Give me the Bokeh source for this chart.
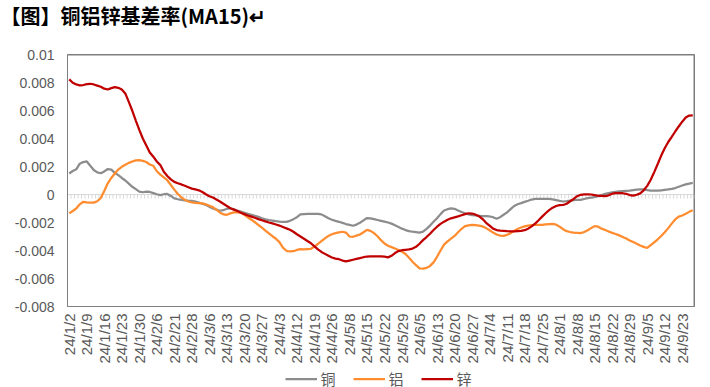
from math import pi
from bokeh.plotting import figure
from bokeh.layouts import column
from bokeh.models import (Range1d, FixedTicker, Legend, LegendItem, Title, Span,
                          ColumnDataSource)
from bokeh.embed import file_html
from bokeh.resources import INLINE

# x-axis labels: one every 5 trading days
tick_labels = ["24/1/2", "24/1/9", "24/1/16", "24/1/23", "24/1/30", "24/2/6", "24/2/21",
               "24/2/28", "24/3/6", "24/3/13", "24/3/20", "24/3/27", "24/4/3", "24/4/12",
               "24/4/19", "24/4/26", "24/5/8", "24/5/15", "24/5/22", "24/5/29", "24/6/5",
               "24/6/13", "24/6/20", "24/6/27", "24/7/4", "24/7/11", "24/7/18", "24/7/25",
               "24/8/1", "24/8/8", "24/8/15", "24/8/22", "24/8/29", "24/9/5", "24/9/12",
               "24/9/23"]
label_step = 5

# basis rate (MA15), in per-mille (x 0.001)
copper = [1.50, 1.68, 1.80, 2.20, 2.32, 2.36, 2.05, 1.75, 1.58, 1.52,
          1.65, 1.82, 1.78, 1.55, 1.38, 1.18, 1.00, 0.78, 0.55, 0.38,
          0.20, 0.16, 0.20, 0.18, 0.10, 0.02, -0.04, 0.02, 0.04, -0.10,
          -0.28, -0.34, -0.38, -0.42, -0.44, -0.45, -0.50, -0.58, -0.66, -0.74,
          -0.88, -1.00, -1.08, -1.16, -1.12, -1.02, -0.98, -1.06, -1.15, -1.22,
          -1.30, -1.38, -1.45, -1.52, -1.60, -1.70, -1.78, -1.83, -1.86, -1.90,
          -1.93, -1.95, -1.96, -1.88, -1.76, -1.62, -1.42, -1.40, -1.39, -1.39,
          -1.39, -1.39, -1.42, -1.56, -1.70, -1.80, -1.88, -1.95, -2.03, -2.11,
          -2.17, -2.23, -2.15, -2.02, -1.85, -1.68, -1.70, -1.76, -1.82, -1.88,
          -1.94, -2.00, -2.08, -2.20, -2.32, -2.44, -2.54, -2.62, -2.66, -2.69,
          -2.72, -2.65, -2.45, -2.22, -1.95, -1.70, -1.40, -1.14, -1.05, -0.99,
          -1.02, -1.14, -1.25, -1.34, -1.42, -1.48, -1.50, -1.52, -1.54, -1.55,
          -1.57, -1.62, -1.73, -1.62, -1.45, -1.28, -1.05, -0.82, -0.70, -0.62,
          -0.53, -0.45, -0.36, -0.32, -0.32, -0.32, -0.32, -0.32, -0.35, -0.40,
          -0.46, -0.50, -0.48, -0.44, -0.40, -0.39, -0.38, -0.32, -0.26, -0.22,
          -0.18, -0.12, -0.04, 0.04, 0.10, 0.15, 0.19, 0.22, 0.24, 0.26,
          0.28, 0.31, 0.34, 0.37, 0.36, 0.32, 0.28, 0.27, 0.27, 0.30,
          0.33, 0.36, 0.40, 0.46, 0.55, 0.64, 0.72, 0.78, 0.83]

aluminium = [-1.35, -1.18, -1.00, -0.70, -0.52, -0.56, -0.58, -0.58, -0.48, -0.25,
             0.25, 0.80, 1.18, 1.50, 1.78, 1.98, 2.12, 2.26, 2.36, 2.44,
             2.45, 2.40, 2.32, 2.14, 2.05, 1.66, 1.42, 1.22, 1.02, 0.68,
             0.35, 0.04, -0.20, -0.38, -0.50, -0.57, -0.60, -0.61, -0.63, -0.70,
             -0.80, -0.90, -1.08, -1.28, -1.42, -1.45, -1.35, -1.28, -1.28, -1.30,
             -1.45, -1.64, -1.80, -1.98, -2.18, -2.36, -2.58, -2.78, -2.98, -3.16,
             -3.40, -3.80, -4.02, -4.07, -4.05, -3.96, -3.90, -3.92, -3.90, -3.88,
             -3.72, -3.52, -3.33, -3.14, -2.96, -2.84, -2.76, -2.70, -2.66, -2.72,
             -3.00, -3.02, -2.94, -2.86, -2.70, -2.53, -2.60, -2.76, -2.98, -3.26,
             -3.50, -3.66, -3.76, -3.86, -3.96, -4.08, -4.25, -4.52, -4.80, -5.05,
             -5.28, -5.30, -5.24, -5.10, -4.85, -4.45, -4.00, -3.58, -3.35, -3.15,
             -2.96, -2.70, -2.45, -2.26, -2.20, -2.17, -2.18, -2.22, -2.28, -2.40,
             -2.55, -2.72, -2.86, -2.94, -2.95, -2.88, -2.76, -2.60, -2.46, -2.36,
             -2.28, -2.22, -2.18, -2.17, -2.17, -2.17, -2.14, -2.11, -2.10, -2.15,
             -2.30, -2.48, -2.62, -2.68, -2.72, -2.74, -2.76, -2.68, -2.55, -2.40,
             -2.26, -2.30, -2.44, -2.54, -2.64, -2.74, -2.82, -2.92, -3.03, -3.14,
             -3.28, -3.40, -3.52, -3.64, -3.74, -3.82, -3.62, -3.42, -3.20, -2.96,
             -2.70, -2.40, -2.08, -1.78, -1.58, -1.50, -1.38, -1.24, -1.12]

zinc = [8.22, 7.98, 7.86, 7.80, 7.82, 7.88, 7.91, 7.86, 7.78, 7.70,
        7.56, 7.50, 7.60, 7.67, 7.62, 7.50, 7.22, 6.62, 5.98, 5.28,
        4.62, 4.00, 3.50, 3.00, 2.70, 2.36, 2.10, 1.62, 1.32, 1.08,
        0.90, 0.80, 0.72, 0.62, 0.52, 0.42, 0.36, 0.30, 0.18, 0.02,
        -0.12, -0.22, -0.36, -0.50, -0.66, -0.82, -0.98, -1.08, -1.18, -1.30,
        -1.40, -1.50, -1.58, -1.66, -1.76, -1.84, -1.92, -2.00, -2.06, -2.14,
        -2.22, -2.32, -2.42, -2.52, -2.66, -2.84, -3.00, -3.16, -3.32, -3.48,
        -3.70, -3.92, -4.10, -4.24, -4.38, -4.50, -4.58, -4.62, -4.72, -4.78,
        -4.72, -4.66, -4.60, -4.54, -4.48, -4.43, -4.42, -4.42, -4.42, -4.42,
        -4.44, -4.49, -4.38, -4.18, -4.04, -3.98, -3.95, -3.92, -3.86, -3.74,
        -3.52, -3.26, -3.04, -2.80, -2.54, -2.30, -2.10, -1.94, -1.80, -1.70,
        -1.63, -1.56, -1.48, -1.40, -1.34, -1.36, -1.44, -1.56, -1.75, -2.02,
        -2.22, -2.44, -2.54, -2.58, -2.60, -2.62, -2.63, -2.64, -2.62, -2.60,
        -2.55, -2.44, -2.28, -2.08, -1.84, -1.58, -1.34, -1.12, -0.94, -0.82,
        -0.76, -0.75, -0.66, -0.48, -0.32, -0.12, -0.02, 0.01, 0.01, 0.00,
        -0.05, -0.09, -0.10, -0.11, -0.06, 0.06, 0.09, 0.09, 0.09, 0.05,
        -0.04, -0.08, -0.02, 0.08, 0.30, 0.62, 1.05, 1.60, 2.18, 2.78,
        3.30, 3.75, 4.12, 4.50, 4.86, 5.20, 5.50, 5.64, 5.65]

y_ticks = [0.01, 0.008, 0.006, 0.004, 0.002, 0.0, -0.002, -0.004, -0.006, -0.008]
y_tick_labels = ["0.01", "0.008", "0.006", "0.004", "0.002", "0", "-0.002", "-0.004", "-0.006", "-0.008"]

series_names = ["铜", "铝", "锌"]
series_colors = ["#8C8C8C", "#FF8C2E", "#C00000"]

title_text = "【图】铜铝锌基差率(MA15)↵"

FRAME_GRAY = "#7F7F7F"
ZERO_GRAY = "#D9D9D9"
TEXT_GRAY = "#595959"
LINE_W = 2.25

n = len(copper)
xs = list(range(n))
y_lo, y_hi = y_ticks[-1], y_ticks[0]

W, TOTAL_H = 710, 387
TITLE_H, LEGEND_H = 40, 18
H = TOTAL_H - TITLE_H - LEGEND_H
FRAME_TOP, FRAME_BOTTOM = 54, 306
B_LEFT, B_RIGHT = 67, 16
B_TOP = FRAME_TOP - TITLE_H
B_BOTTOM = TITLE_H + H - FRAME_BOTTOM


def bare_figure(height, y_range):
    f = figure(width=W, height=height, output_backend="svg", toolbar_location=None,
               x_range=Range1d(0, 1), y_range=y_range,
               x_axis_type=None, y_axis_type=None,
               min_border_left=B_LEFT, min_border_right=B_RIGHT,
               min_border_top=0, min_border_bottom=0)
    f.outline_line_color = None
    f.xgrid.visible = False
    f.ygrid.visible = False
    return f


# ---- title strip ----
t = bare_figure(TITLE_H, Range1d(0, 1))
t.add_layout(Title(text=title_text, align="left", vertical_align="top", offset=-B_LEFT, standoff=0,
                   text_font="Noto Sans CJK SC", text_font_style="bold", text_font_size="20px",
                   text_color="black"), "above")

# ---- main chart ----
p = figure(width=W, height=H, output_backend="svg", toolbar_location=None,
           x_range=Range1d(-0.5, n - 0.5), y_range=Range1d(y_lo, y_hi),
           min_border_left=B_LEFT, min_border_right=B_RIGHT,
           min_border_top=B_TOP, min_border_bottom=B_BOTTOM)
p.background_fill_color = "white"
p.border_fill_color = "white"
p.outline_line_color = FRAME_GRAY
p.xgrid.visible = False
p.ygrid.visible = False

# zero line with a small tick between every category (drawn beneath the series)
p.add_layout(Span(location=0, dimension="width", line_color=ZERO_GRAY, line_width=1, level="underlay"))
frame_h = FRAME_BOTTOM - FRAME_TOP
tick_len = 4 * (y_hi - y_lo) / frame_h
bounds = [i - 0.5 for i in range(n + 1)]
p.segment(x0=bounds, y0=[0] * len(bounds), x1=bounds, y1=[-tick_len] * len(bounds),
          line_color=ZERO_GRAY, line_width=1, level="underlay")

sources = []
for vals, col in zip([copper, aluminium, zinc], series_colors):
    src = ColumnDataSource(dict(x=xs, y=[v / 1000 for v in vals]))
    sources.append(src)
    p.line("x", "y", source=src, line_color=col, line_width=LINE_W)

# top and right frame lines
p.add_layout(Span(location=y_hi, dimension="width", line_color=FRAME_GRAY, line_width=2))
p.add_layout(Span(location=n - 0.5, dimension="height", line_color=FRAME_GRAY, line_width=2))

# y axis
ya = p.yaxis[0]
ya.ticker = FixedTicker(ticks=y_ticks)
ya.major_label_overrides = {t_: s for t_, s in zip(y_ticks, y_tick_labels)}
ya.axis_line_color = FRAME_GRAY
ya.major_tick_line_color = None
ya.major_tick_out = 0
ya.major_tick_in = 0
ya.minor_tick_line_color = None
ya.major_label_standoff = 13
ya.major_label_text_font = "Liberation Sans"
ya.major_label_text_font_size = "14px"
ya.major_label_text_color = TEXT_GRAY

# x axis (labels at the bottom)
xa = p.xaxis[0]
label_pos = [i * label_step for i in range(len(tick_labels))]
xa.ticker = FixedTicker(ticks=label_pos)
xa.major_label_overrides = {pos: s for pos, s in zip(label_pos, tick_labels)}
xa.major_label_orientation = pi / 2
xa.axis_line_color = FRAME_GRAY
xa.major_tick_line_color = None
xa.major_tick_out = 0
xa.major_tick_in = 0
xa.minor_tick_line_color = None
xa.major_label_standoff = 7
xa.major_label_text_font = "Liberation Sans"
xa.major_label_text_font_size = "15px"
xa.major_label_text_color = TEXT_GRAY

# ---- legend strip: the series are re-used here, but lie outside this strip's range,
# so only the legend swatches are visible ----
lg = bare_figure(LEGEND_H, Range1d(1, 2))
swatches = [lg.line("x", "y", source=src, line_color=col, line_width=LINE_W)
            for src, col in zip(sources, series_colors)]
legend = Legend(items=[LegendItem(label=nm, renderers=[r]) for nm, r in zip(series_names, swatches)],
                orientation="horizontal", location="center",
                glyph_width=32, glyph_height=16, label_standoff=4, spacing=12,
                padding=0, margin=0, border_line_color=None, background_fill_alpha=0,
                label_text_font="Noto Sans CJK SC", label_text_font_size="15px",
                label_text_color=TEXT_GRAY, label_text_baseline="middle")
lg.add_layout(legend, "center")

layout = column(t, p, lg, spacing=0)
open("out.html", "w").write(file_html(layout, INLINE))
